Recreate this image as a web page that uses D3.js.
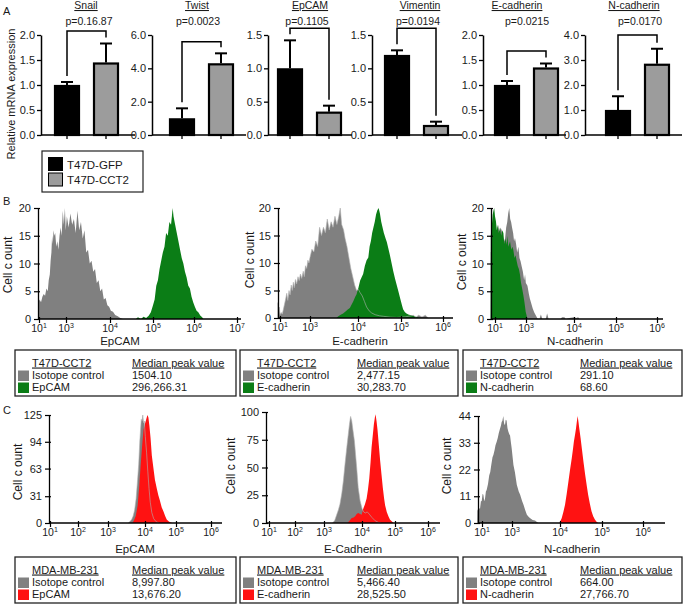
<!DOCTYPE html>
<html><head><meta charset="utf-8">
<script src="https://cdn.jsdelivr.net/npm/d3@7"></script>
<style>
body{margin:0;background:#fff}
svg{display:block}
text{font-family:"Liberation Sans",Arial,sans-serif;fill:#1a1a1a}
</style>
</head><body>
<svg id="fig" width="688" height="605"></svg>
<script>
// ---------------- DATA ----------------
// Panel A: qPCR bar charts
const genes = ["Snail","Twist","EpCAM","Vimentin","E-cadherin","N-cadherin"];
const groups = ["T47D-GFP","T47D-CCT2"];
const pLabels = ["p=0.16.87","p=0.0023","p=0.1105","p=0.0194","p=0.0215","p=0.0170"];
const gfpMean = [1.0,1.0,1.0,1.2,1.0,1.0];
const gfpErrTop = [1.06,1.6,1.42,1.27,1.08,1.55];
const cct2Mean = [1.45,4.3,0.35,0.15,1.35,2.85];
const cct2ErrTop = [1.83,4.9,0.44,0.2,1.43,3.45];
const yMaxA = [2.0,6.0,1.5,1.5,2.0,4.0];
const yStepA = [0.5,2.0,0.5,0.5,0.5,1.0];
const bracketLevel = [2.08,5.6,1.6,1.6,1.68,4.0];

// Panel B: flow histograms, T47D-CCT2 ([log10 intensity, cell count])
const bIsoEpcam = [[0.95,0],[0.96,3],[1.05,3.5],[1.15,3],[1.25,4],[1.35,4.5],[1.45,4.2],[1.55,5.5],[1.65,5],[1.72,7],[1.8,8],[1.86,10.5],[1.92,12],[1.97,15],[2.02,13.5],[2.08,16],[2.14,15],[2.2,15.5],[2.28,13],[2.36,14],[2.44,12.5],[2.52,15],[2.6,16.5],[2.68,15],[2.76,19.5],[2.84,17],[2.92,20],[2.98,16],[3.02,18.5],[3.06,16.5],[3.1,19],[3.14,17],[3.18,18],[3.22,15.5],[3.26,19.5],[3.3,16],[3.34,17.5],[3.38,14.5],[3.42,16],[3.46,12],[3.5,12.5],[3.54,10],[3.58,10.5],[3.62,8.5],[3.66,9],[3.7,6.5],[3.74,7],[3.78,5],[3.82,5.5],[3.86,3.5],[3.9,3.8],[3.94,2.5],[3.98,2.2],[4.02,1.5],[4.07,1.3],[4.12,0.7],[4.18,0.5],[4.24,0.2],[4.3,0]];
const bEpcam = [[4.6,0],[4.65,0.3],[4.72,0],[4.78,0.4],[4.84,0.2],[4.9,0.6],[4.95,1.2],[5.0,2.5],[5.04,3.5],[5.08,6],[5.12,7],[5.16,9],[5.2,10.5],[5.24,12],[5.28,13],[5.32,15.5],[5.36,15],[5.4,17.5],[5.44,17],[5.48,20],[5.5,18.5],[5.54,17],[5.58,15.5],[5.62,14],[5.66,12.5],[5.7,11],[5.74,10],[5.78,8.5],[5.82,7.5],[5.86,6],[5.9,5.5],[5.94,4],[5.98,3],[6.02,2.2],[6.06,1.5],[6.1,1.2],[6.15,0.6],[6.19,0.3],[6.22,0]];
const bIsoEcad = [[0.85,0],[0.86,2.8],[0.9,1.2],[0.95,2],[1.0,0.6],[1.08,1],[1.15,0.7],[1.22,1.5],[1.3,2.5],[1.38,3.5],[1.45,4.5],[1.52,3.2],[1.6,5],[1.67,4.2],[1.75,6],[1.82,5],[1.89,6.5],[1.96,5.5],[2.03,7],[2.11,6.2],[2.2,7.5],[2.28,6.8],[2.36,8],[2.45,7.2],[2.55,8.5],[2.62,7.5],[2.7,9.5],[2.78,9],[2.86,10.5],[2.93,10],[3.0,11],[3.04,12.5],[3.08,12],[3.12,14],[3.16,13],[3.2,16.5],[3.24,15],[3.28,16.5],[3.32,15.5],[3.36,18],[3.4,16],[3.44,17.5],[3.48,16.5],[3.52,18.5],[3.56,17],[3.6,18.5],[3.63,20],[3.66,17],[3.7,16],[3.73,14.5],[3.77,13],[3.81,11],[3.85,9],[3.89,7.5],[3.93,6],[3.97,5],[4.01,5.2],[4.05,4.6],[4.1,4],[4.15,3],[4.2,2],[4.26,1.3],[4.32,0.9],[4.4,0.6],[4.5,0.4],[4.6,0.3],[4.75,0.15],[4.9,0.1],[5.1,0.2],[5.3,0.5],[5.35,0.1],[5.42,0.5],[5.5,0.2],[5.58,0.5],[5.65,0]];
const bEcad = [[3.55,0],[3.59,0.3],[3.64,0.6],[3.69,0.8],[3.74,1.2],[3.78,1.5],[3.83,1.8],[3.87,2.5],[3.9,3],[3.94,3.8],[3.97,4.3],[4.01,5.5],[4.05,6.8],[4.09,7.5],[4.12,8],[4.16,9.5],[4.2,10.5],[4.24,11],[4.27,13],[4.3,14],[4.33,15.5],[4.36,16.5],[4.39,17.5],[4.42,18.8],[4.45,19.6],[4.48,20],[4.51,19],[4.54,17.5],[4.57,16.5],[4.6,15.5],[4.64,14.5],[4.67,13.8],[4.71,12.5],[4.74,11.5],[4.78,10],[4.82,8.5],[4.86,7.2],[4.9,6],[4.94,4.8],[4.98,3.6],[5.02,2.4],[5.05,1.6],[5.09,1.1],[5.13,0.8],[5.19,0.6],[5.25,0.5],[5.31,0.3],[5.37,0.2],[5.43,0]];
const bIsoNcad = [[0.72,0],[0.73,12],[0.79,13],[0.85,11],[0.92,15],[1.0,14],[1.06,16],[1.12,15],[1.21,17],[1.28,15.5],[1.36,16.5],[1.43,16],[1.5,15],[1.58,14],[1.65,14.5],[1.72,16.5],[1.79,17.5],[1.85,19],[1.92,20],[1.98,18],[2.04,17.5],[2.1,16.5],[2.17,15.5],[2.23,14],[2.29,14.6],[2.36,13.5],[2.43,12],[2.51,13],[2.58,11],[2.65,10.4],[2.72,9.5],[2.8,8.5],[2.88,7],[2.94,8],[2.99,6.5],[3.03,6],[3.06,4.5],[3.08,3.7],[3.11,2.8],[3.14,1.9],[3.17,1.2],[3.2,0.7],[3.24,0.1],[3.28,0],[3.31,0.8],[3.34,0],[3.41,0],[3.44,1],[3.47,0],[3.72,0],[3.75,0.3],[3.8,0.3],[3.83,0],[3.9,0.2],[4.0,0.3],[4.05,0.2],[4.1,0.3],[4.13,0]];
const bNcad = [[0.72,0],[0.73,15],[0.8,17],[0.85,18.8],[0.9,19.5],[0.95,20],[1.0,18.5],[1.06,17.6],[1.12,16],[1.17,17],[1.24,15.5],[1.32,16.4],[1.4,15],[1.47,16],[1.54,15.5],[1.6,13.5],[1.67,14.5],[1.75,13.4],[1.8,15],[1.86,13],[1.97,14],[2.05,12.5],[2.12,13],[2.18,12.5],[2.26,11],[2.33,11.5],[2.4,10.4],[2.47,9.5],[2.54,9],[2.61,8],[2.68,6.5],[2.75,5.5],[2.83,4.3],[2.9,3],[2.98,1.3],[3.03,0]];

// Panel C: flow histograms, MDA-MB-231
const cIsoEpcam = [[3.55,0],[3.6,2],[3.64,4],[3.68,8],[3.72,15],[3.76,28],[3.8,50],[3.83,68],[3.86,95],[3.88,108],[3.9,120],[3.92,118],[3.94,125],[3.96,116],[3.98,118],[4.01,100],[4.05,82],[4.09,60],[4.13,40],[4.17,24],[4.22,12],[4.28,5],[4.36,1.5],[4.45,0]];
const cEpcam = [[3.66,0],[3.7,3],[3.75,8],[3.8,20],[3.84,40],[3.88,65],[3.92,88],[3.96,108],[4.0,115],[4.04,120],[4.08,125],[4.11,122],[4.14,113],[4.18,98],[4.22,78],[4.27,64],[4.32,50],[4.38,40],[4.43,32],[4.48,26],[4.54,18],[4.59,14],[4.65,8],[4.7,4],[4.76,2],[4.81,1],[4.88,0]];
const cIsoEcad = [[3.22,0],[3.28,2],[3.33,7],[3.38,12],[3.42,17],[3.47,27],[3.51,38],[3.55,52],[3.6,68],[3.64,80],[3.67,89],[3.7,96],[3.73,92],[3.76,84],[3.8,74],[3.83,62],[3.86,50],[3.9,32],[3.95,20],[4.0,13],[4.05,10],[4.1,9],[4.16,10],[4.22,8],[4.3,5],[4.4,2],[4.5,0.5],[4.58,0]];
const cEcad = [[3.62,0],[3.66,1.5],[3.73,4.5],[3.78,5],[3.82,6],[3.86,8],[3.9,9],[3.95,8],[3.99,7.5],[4.04,13],[4.09,17],[4.14,22],[4.18,30],[4.22,40],[4.26,55],[4.29,68],[4.33,80],[4.36,89],[4.39,95],[4.41,98],[4.44,92],[4.47,84],[4.51,70],[4.55,56],[4.59,44],[4.63,32],[4.67,22],[4.7,16],[4.75,10],[4.8,6],[4.85,3],[4.9,1.5],[4.96,0]];
const cIsoNcad = [[0.68,0],[0.69,5],[0.75,6],[0.87,6],[0.93,9],[0.98,8.9],[1.04,12],[1.09,11.6],[1.15,9],[1.2,10],[1.26,13],[1.31,13.6],[1.4,16],[1.48,19.5],[1.55,21],[1.62,24],[1.7,27],[1.76,28],[1.84,30],[1.9,32],[1.98,33.4],[2.05,35],[2.12,37],[2.2,38.8],[2.26,40],[2.31,41.5],[2.36,42],[2.42,44],[2.47,41],[2.53,40.2],[2.58,42.5],[2.64,42.2],[2.7,39],[2.76,37.5],[2.82,36.5],[2.87,36],[2.93,33],[2.98,30.6],[3.03,23.8],[3.06,21],[3.1,15.7],[3.14,13],[3.17,11.6],[3.21,9],[3.24,7.5],[3.28,5],[3.31,3.4],[3.35,2.5],[3.38,2],[3.43,1.2],[3.48,1],[3.52,0.4],[3.55,0]];
const cNcad = [[3.99,0],[4.04,2],[4.08,4.5],[4.12,7.5],[4.16,12],[4.2,17],[4.24,22],[4.28,26.6],[4.31,30.5],[4.33,33.4],[4.36,36.5],[4.38,38.8],[4.4,41.5],[4.42,44],[4.44,41.5],[4.46,38.8],[4.49,35],[4.52,30.6],[4.56,25],[4.6,19.7],[4.64,15],[4.67,11.6],[4.71,8],[4.75,4.8],[4.79,2.8],[4.83,1.4],[4.87,0.5],[4.91,0]];

// Axis ticks
const bYTicks = [0,5,10,15,20];
const cYTicks = [[0,31,63,94,125],[0,25,50,75,100],[0,11,22,33,44]];
const xExpB = [[1,3,4,5,6,7],[1,3,4,5,6],[1,3,4,5,6]];
const xExpC = [[1,2,3,4,5,6],[1,2,3,4,5,6],[1,3,4,5,6]];
const bXTitles = ["EpCAM","E-cadherin","N-cadherin"];
const cXTitles = ["EpCAM","E-Cadherin","N-cadherin"];
const yTitleHist = "Cell c ount";

// Tables
const bTableHead = ["T47D-CCT2","Median peak value"];
const cTableHead = ["MDA-MB-231","Median peak value"];
const bRowLabels = [["Isotope control","EpCAM"],["Isotope control","E-cadherin"],["Isotope control","N-cadherin"]];
const cRowLabels = [["Isotope control","EpCAM"],["Isotope control","E-cadherin"],["Isotope control","N-cadherin"]];
const bValues = [["1504.10","296,266.31"],["2,477.15","30,283.70"],["291.10","68.60"]];
const cValues = [["8,997.80","13,676.20"],["5,466.40","28,525.50"],["664.00","27,766.70"]];

// ---------------- STYLE / LAYOUT ----------------
const GRAY_HIST = "#808080", GREEN = "#0b7d16", RED = "#ff1212", BAR_GRAY = "#9c9c9c";
const svg = d3.select("#fig");

// panel letters
[["A",3,15],["B",3,205],["C",3,414]].forEach(d=>{
  svg.append("text").attr("x",d[1]).attr("y",d[2]).attr("font-size",11).text(d[0]);
});

// ---------- Panel A ----------
const A = {axisX:[41,152,268,372,483,585], off:[13,17,9,12,11,20], titleX:[86,197,310,420,517,634],
  pX:[89,198,307,418,527,640], axisEnd:[135,246,352,462,566,682], y0:135, yTop:35};

genes.forEach((g,i)=>{
  const ax = A.axisX[i];
  const y = d3.scaleLinear().domain([0,yMaxA[i]]).range([A.y0,A.yTop]);
  const x = d3.scaleBand().domain(groups).range([ax+A.off[i], ax+A.off[i]+65]).paddingInner(1/3).paddingOuter(0);
  const gA = svg.append("g");
  const ticks = d3.range(0, yMaxA[i]+1e-9, yStepA[i]);
  const yax = gA.append("g").attr("transform",`translate(${ax},0)`)
    .call(d3.axisLeft(y).tickValues(ticks).tickFormat(d3.format(".1f")).tickSize(4).tickSizeOuter(0).tickPadding(2));
  yax.select(".domain").attr("stroke","#000").attr("stroke-width",1.5);
  yax.selectAll(".tick line").attr("stroke","#000").attr("stroke-width",1.3);
  yax.selectAll(".tick text").attr("font-size",11).attr("fill","#222").style("font-family","'Liberation Sans',Arial,sans-serif");
  gA.append("line").attr("x1",ax).attr("x2",A.axisEnd[i]).attr("y1",A.y0).attr("y2",A.y0).attr("stroke","#000").attr("stroke-width",1.5);
  groups.forEach(gr=>{
    const cx = x(gr)+x.bandwidth()/2;
    gA.append("line").attr("x1",cx).attr("x2",cx).attr("y1",A.y0).attr("y2",A.y0+4).attr("stroke","#000").attr("stroke-width",1.3);
  });
  const vals = [[gfpMean[i],gfpErrTop[i],"#000"],[cct2Mean[i],cct2ErrTop[i],BAR_GRAY]];
  vals.forEach((v,k)=>{
    const gr = groups[k];
    const bx = x(gr), bw = x.bandwidth(), cx = bx+bw/2;
    gA.append("line").attr("x1",cx).attr("x2",cx).attr("y1",y(v[0])).attr("y2",y(v[1])).attr("stroke","#000").attr("stroke-width",2);
    gA.append("line").attr("x1",cx-6).attr("x2",cx+6).attr("y1",y(v[1])).attr("y2",y(v[1])).attr("stroke","#000").attr("stroke-width",2);
    gA.append("rect").attr("x",bx+1).attr("y",y(v[0])+1).attr("width",bw-2).attr("height",A.y0-y(v[0])-1)
      .attr("fill",v[2]).attr("stroke","#000").attr("stroke-width",2.2);
  });
  const c1 = x(groups[0])+x.bandwidth()/2, c2 = x(groups[1])+x.bandwidth()/2;
  const yb = y(bracketLevel[i]);
  gA.append("path").attr("d",`M${c1},${y(gfpErrTop[i])-6}V${yb}H${c2}V${y(cct2ErrTop[i])-6}`)
    .attr("fill","none").attr("stroke","#000").attr("stroke-width",1.5);
  gA.append("text").attr("x",A.titleX[i]).attr("y",9).attr("text-anchor","middle").attr("font-size",10.5)
    .attr("text-decoration","underline").text(g);
  gA.append("text").attr("x",A.pX[i]).attr("y",25).attr("text-anchor","middle").attr("font-size",10.5).text(pLabels[i]);
});
svg.append("text").attr("transform","translate(15,94) rotate(-90)").attr("text-anchor","middle").attr("font-size",11)
  .text("Relative mRNA expression");

// legend
const leg = svg.append("g");
leg.append("rect").attr("x",42).attr("y",151).attr("width",101).attr("height",41).attr("fill","none").attr("stroke","#222").attr("stroke-width",1.2);
groups.forEach((gr,k)=>{
  leg.append("rect").attr("x",48.5).attr("y",157.5+k*15.5).attr("width",14).attr("height",13)
    .attr("fill",k?BAR_GRAY:"#000").attr("stroke","#000").attr("stroke-width",1);
  leg.append("text").attr("x",67).attr("y",168.5+k*15.5).attr("font-size",11.5).text(gr);
});

// ---------- Histograms ----------
function drawHist(cfg){
  const g = svg.append("g");
  const x = d3.scaleLinear().domain(cfg.exps).range(cfg.px);
  const y = d3.scaleLinear().domain([0, d3.max(cfg.yTicks)]).range([cfg.y0, cfg.yTop]);
  const area = d3.area().x(d=>x(d[0])).y0(cfg.y0).y1(d=>y(d[1]));
  const line = d3.line().x(d=>x(d[0])).y(d=>y(d[1]));
  g.append("path").datum(cfg.iso).attr("d",area).attr("fill",GRAY_HIST);
  g.append("path").datum(cfg.mark).attr("d",area).attr("fill",cfg.color);
  if(cfg.outline) g.append("path").datum(cfg.iso).attr("d",line).attr("fill","none").attr("stroke","#b0b0b0").attr("stroke-width",0.6);
  const yax = g.append("g").attr("transform",`translate(${cfg.axisX},0)`)
    .call(d3.axisLeft(y).tickValues(cfg.yTicks).tickSize(4).tickSizeOuter(0).tickPadding(3));
  yax.select(".domain").attr("stroke","#000").attr("stroke-width",1.3);
  yax.selectAll(".tick line").attr("x1",2).attr("stroke","#000").attr("stroke-width",1.2);
  yax.selectAll(".tick text").attr("font-size",11).attr("fill","#222").style("font-family","'Liberation Sans',Arial,sans-serif");
  g.append("line").attr("x1",cfg.axisX).attr("x2",cfg.xEnd).attr("y1",cfg.y0).attr("y2",cfg.y0).attr("stroke","#000").attr("stroke-width",1.3);
  const xax = g.append("g").attr("transform",`translate(0,${cfg.y0})`)
    .call(d3.axisBottom(x).tickValues(cfg.exps).tickSize(4).tickFormat(""));
  xax.select(".domain").remove();
  xax.selectAll(".tick line").attr("y1",-2).attr("stroke","#000").attr("stroke-width",1.2);
  cfg.exps.forEach(e=>{
    const t = g.append("text").attr("x",x(e)).attr("y",cfg.y0+13).attr("text-anchor","middle").attr("font-size",10.5);
    t.append("tspan").text("10");
    t.append("tspan").attr("dy",-4.5).attr("font-size",7).text(e);
  });
  g.append("text").attr("x",cfg.xLab[0]).attr("y",cfg.xLab[1]).attr("text-anchor","middle").attr("font-size",11.5).text(cfg.xTitle);
  g.append("text").attr("transform",`translate(${cfg.yLab[0]},${cfg.yLab[1]}) rotate(-90)`).attr("text-anchor","middle")
    .attr("font-size",12).text(yTitleHist);
}

const bCfg = [
  {axisX:38,y0:319,yTop:208,px:[39,66,110,153,194,237],xEnd:241,xLab:[120,345],yLab:[12,265]},
  {axisX:278,y0:318,yTop:208,px:[280,310,358,401,443],xEnd:453,xLab:[360,345],yLab:[254,260]},
  {axisX:491,y0:319,yTop:208,px:[495,526,574,616,657],xEnd:663,xLab:[575,345],yLab:[466,262]}
];
const bIso = [bIsoEpcam,bIsoEcad,bIsoNcad], bMark=[bEpcam,bEcad,bNcad];
bCfg.forEach((c,i)=>drawHist(Object.assign({},c,{exps:xExpB[i],yTicks:bYTicks,iso:bIso[i],mark:bMark[i],color:GREEN,
  xTitle:bXTitles[i],outline:i===1})));

const cCfg = [
  {axisX:49,y0:523,yTop:415,px:[50,78,108,145,176,211],xEnd:222,xLab:[135,553],yLab:[22,472]},
  {axisX:266,y0:523,yTop:412,px:[269,295,324,362,395,428],xEnd:440,xLab:[353,553],yLab:[235,466]},
  {axisX:478,y0:523,yTop:416,px:[482,512,560,602,643],xEnd:665,xLab:[572,553],yLab:[451,466]}
];
const cIso = [cIsoEpcam,cIsoEcad,cIsoNcad], cMark=[cEpcam,cEcad,cNcad];
cCfg.forEach((c,i)=>drawHist(Object.assign({},c,{exps:xExpC[i],yTicks:cYTicks[i],iso:cIso[i],mark:cMark[i],color:RED,
  xTitle:cXTitles[i],outline:i<2})));

// ---------- Tables ----------
function drawTable(x0,x1,top,bot,head,labels,values,color){
  const g = svg.append("g");
  g.append("rect").attr("x",x0).attr("y",top).attr("width",x1-x0).attr("height",bot-top).attr("fill","none").attr("stroke","#222").attr("stroke-width",1.3);
  g.append("text").attr("x",x0+17).attr("y",top+16.5).attr("font-size",11).attr("text-decoration","underline").text(head[0]);
  g.append("text").attr("x",x0+117).attr("y",top+16.5).attr("font-size",11).attr("text-decoration","underline").text(head[1]);
  [GRAY_HIST,color].forEach((c,k)=>{
    g.append("rect").attr("x",x0+3).attr("y",top+20.5+k*12).attr("width",11).attr("height",10.5).attr("fill",c);
    g.append("text").attr("x",x0+17).attr("y",top+29+k*12).attr("font-size",11).text(labels[k]);
    g.append("text").attr("x",x0+117).attr("y",top+29+k*12).attr("font-size",11).text(values[k]);
  });
}
const tableX = [[15,236],[240,458],[463,682]];
tableX.forEach((t,i)=>{
  drawTable(t[0],t[1],350,396,bTableHead,bRowLabels[i],bValues[i],GREEN);
  drawTable(t[0],t[1],557,603,cTableHead,cRowLabels[i],cValues[i],RED);
});
</script>
</body></html>
